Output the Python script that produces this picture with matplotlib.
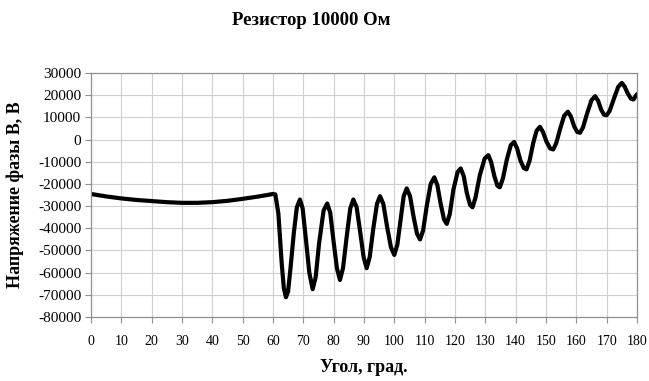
import matplotlib
matplotlib.use('Agg')
import matplotlib.pyplot as plt
import numpy as np

plt.rcParams['font.family'] = ['Liberation Serif', 'DejaVu Serif']
plt.rcParams['axes.unicode_minus'] = False

# Curve values (angle in degrees, voltage in V)
angle = [0, 5, 10, 15, 20, 25, 30, 35, 40, 45, 50, 55, 58, 60, 60.8,
         61.8, 62.9, 63.6, 64.3, 65.0, 65.8, 66.9, 67.9, 68.9,
         69.8, 70.8, 72.0, 73.1, 74.1, 75.2, 76.7, 77.9,
         78.9, 80.0, 81.1, 82.1, 83.1, 84.3, 85.5, 86.5,
         87.6, 88.7, 89.9, 90.9, 91.9, 93.1, 94.3, 95.3,
         96.4, 97.6, 98.9, 100.0, 101.0, 102.1, 103.1, 104.1,
         105.2, 106.4, 107.5, 108.5, 109.5, 110.7, 112.0, 113.2,
         114.2, 115.3, 116.4, 117.3, 118.3, 119.5, 120.9, 121.9,
         122.9, 123.9, 125.0, 125.8, 126.8, 128.2, 129.8, 131.0,
         131.9, 133.0, 134.0, 134.8, 135.8, 137.1, 138.4, 139.5,
         140.5, 141.6, 142.7, 143.6, 144.6, 145.8, 146.9, 148.0,
         149.0, 150.2, 151.4, 152.4, 153.4, 154.7, 156.0, 157.2,
         158.2, 159.3, 160.3, 161.2, 162.2, 163.6, 165.0, 166.2,
         167.2, 168.2, 169.1, 170.0, 171.0, 172.4, 173.8, 175.0,
         175.9, 176.9, 178.0, 178.8, 179.5, 180.0]
voltage = [-24500, -25600, -26500, -27200, -27700, -28200, -28500, -28500, -28200, -27600, -26700, -25700, -25000, -24500, -24700,
           -33300, -55800, -67000, -71100, -68500, -58000, -42000, -30500, -27000,
           -31000, -44000, -60000, -67500, -62000, -47000, -32000, -28800,
           -33000, -46000, -58000, -63300, -58000, -44000, -31000, -27000,
           -30500, -41000, -53000, -58000, -53000, -40000, -29000, -25500,
           -29000, -39000, -48500, -52000, -47500, -36000, -25500, -22000,
           -25500, -35000, -42500, -45000, -41000, -30000, -20000, -17000,
           -20500, -29000, -36000, -38000, -33500, -22500, -14500, -13000,
           -16500, -24000, -29500, -30500, -26000, -16000, -8500, -7000,
           -10000, -16500, -20800, -21500, -17500, -9000, -2500, -1000,
           -4000, -9500, -12800, -13400, -9500, -1500, 4000, 5800,
           3500, -1000, -4000, -4400, -1500, 5000, 10800, 12600,
           10500, 6000, 3500, 3100, 5500, 12000, 17800, 19600,
           17500, 13500, 11300, 11000, 13000, 18500, 23800, 25600,
           24000, 21000, 18500, 18100, 19500, 20500]

x_ticks = list(range(0, 181, 10))
y_ticks = list(range(-80000, 30001, 10000))

fig = plt.figure(figsize=(6.49, 3.81), dpi=100)
ax = fig.add_axes([0.140, 0.168, 0.8415, 0.640])

ax.plot(angle, voltage, color='black', linewidth=3.0, solid_joinstyle='round',
        solid_capstyle='round')

ax.set_xlim(0, 180)
ax.set_ylim(-80000, 30000)
ax.set_xticks(x_ticks)
ax.set_yticks(y_ticks)
ax.set_xticklabels([str(v) for v in x_ticks])
ax.set_yticklabels([str(v) for v in y_ticks])
ax.grid(True, color='#d0d0d0', linewidth=0.8)
ax.set_axisbelow(True)
for s in ax.spines.values():
    s.set_color('#909090')
    s.set_linewidth(0.9)
ax.tick_params(axis='both', length=4, color='#909090', width=0.8)
ax.tick_params(axis='x', labelsize=10, pad=9)
ax.tick_params(axis='y', labelsize=11, pad=3)

fig.text(0.48, 0.945, 'Резистор 10000 Ом', ha='center', va='center',
         fontsize=13.5, fontweight='bold')
ax.set_xlabel('Угол, град.', fontsize=13, fontweight='bold', va='center')
ax.set_ylabel('Напряжение фазы В, В', fontsize=13, fontweight='bold', va='center')
ax.xaxis.set_label_coords(0.50, -0.209)
ax.yaxis.set_label_coords(-0.139, 0.50)

fig.savefig('out.png', dpi=100)
